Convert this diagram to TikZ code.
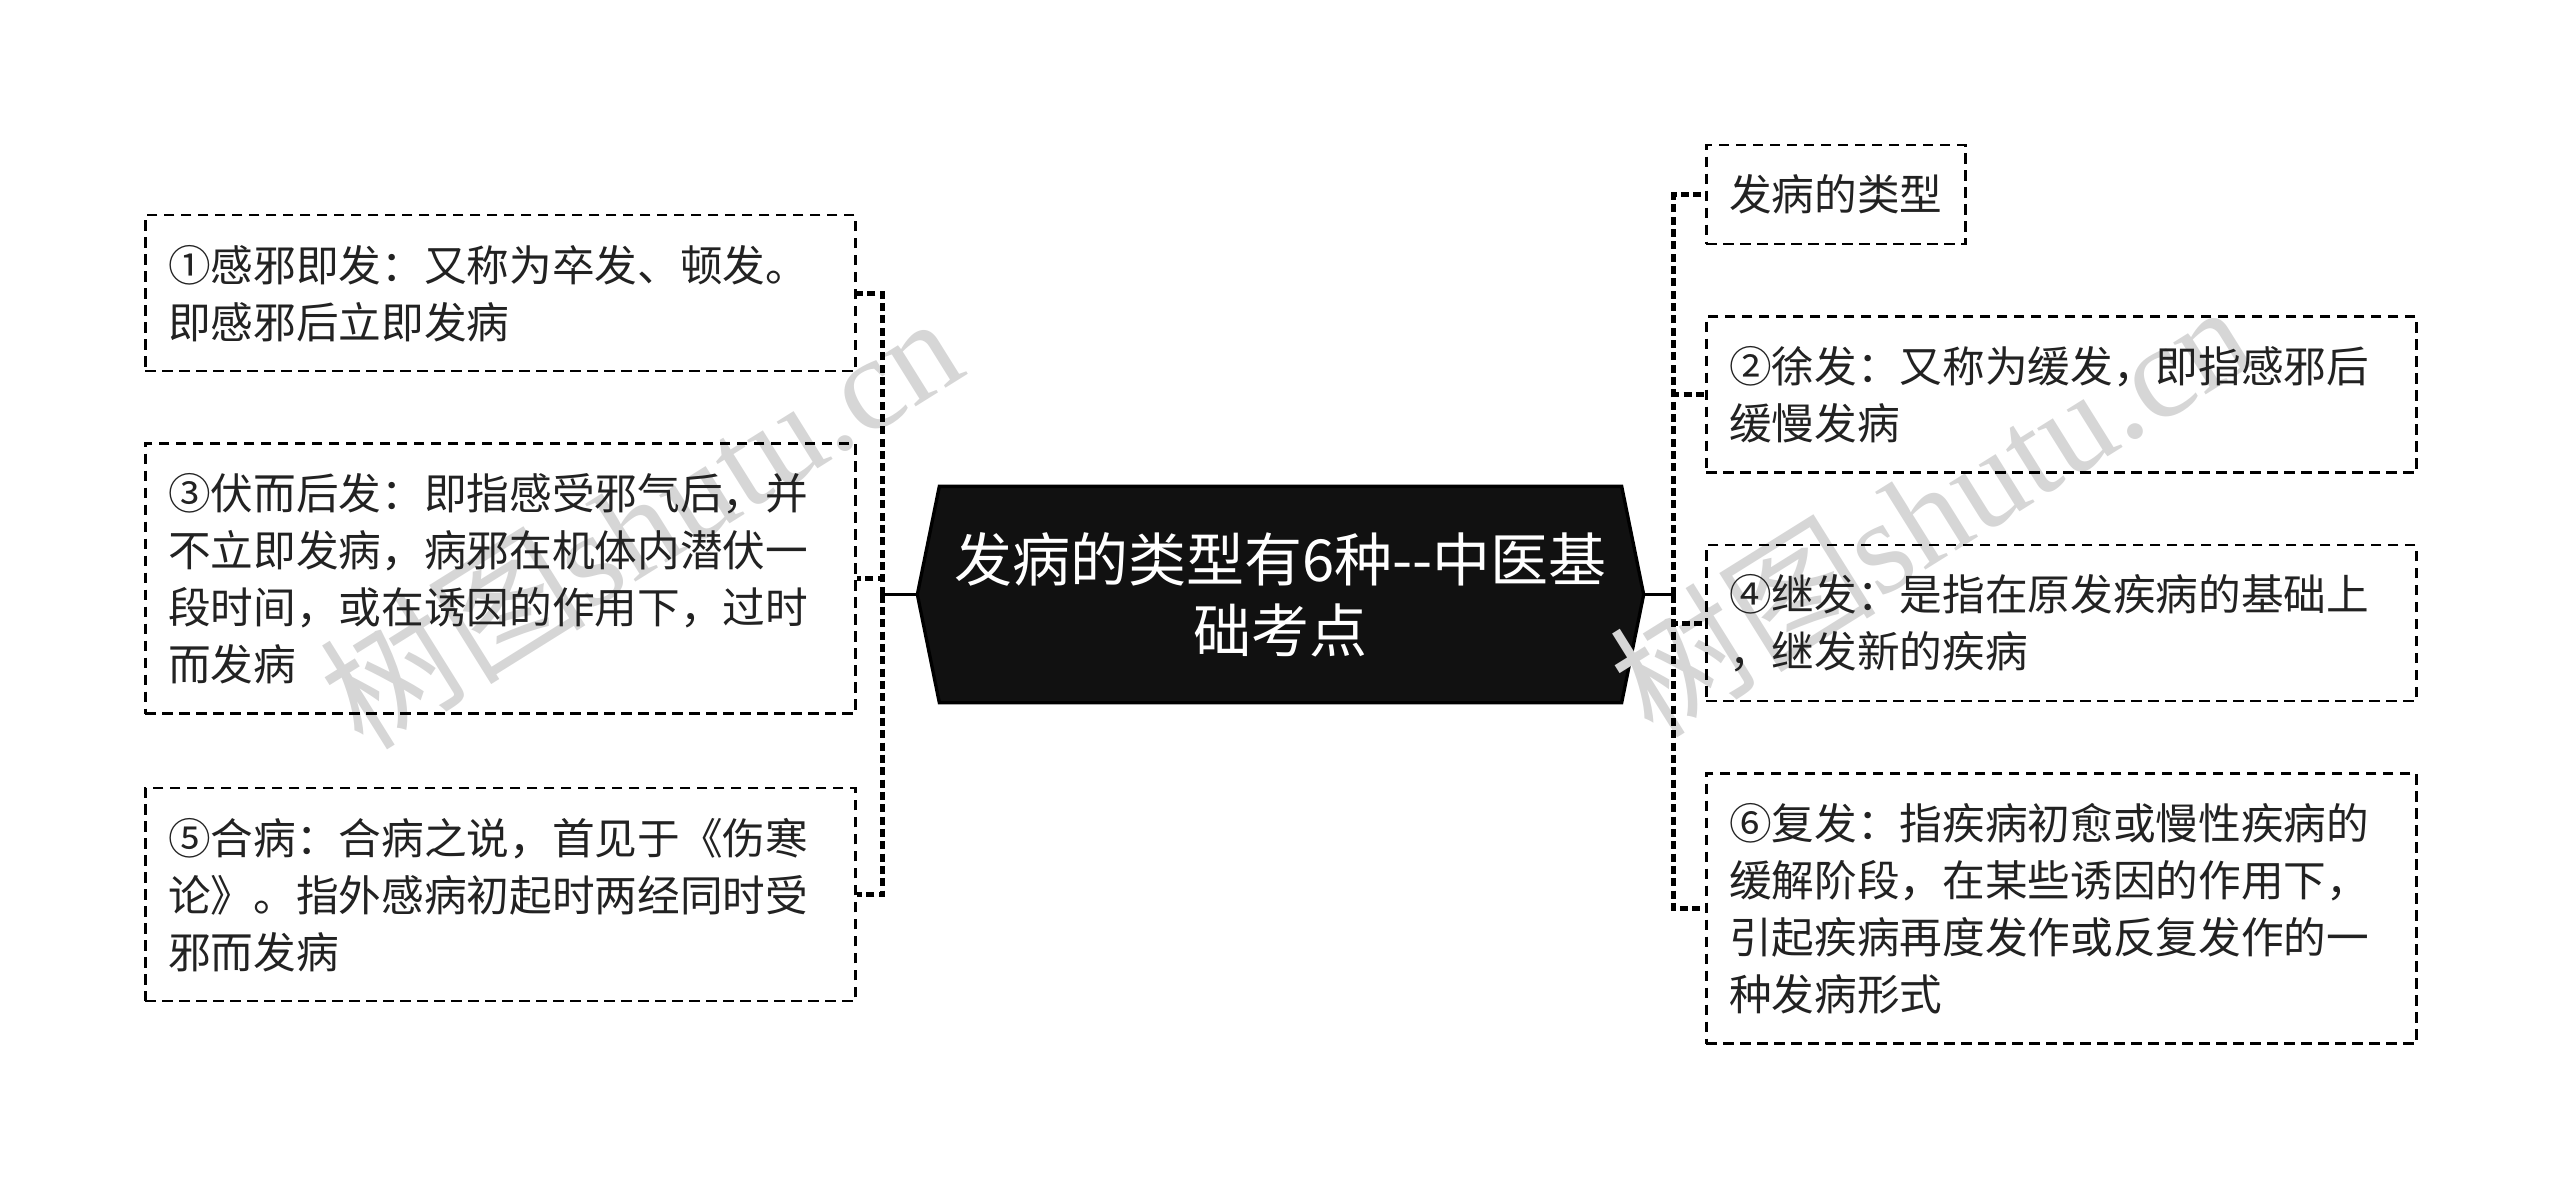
\documentclass[tikz,border=0pt]{standalone}
\usepackage{fontspec}
\newfontfamily\cjk{Noto Sans CJK SC}
\newfontfamily\wmfont{Liberation Serif}
\usepackage{tikz}
\usetikzlibrary{positioning}
\usetikzlibrary{backgrounds}
\definecolor{hexblack}{HTML}{111111}
\definecolor{leaftext}{HTML}{222222}
\definecolor{wmgray}{HTML}{D6D6D6}
\tikzstyle{leaf} = [draw,line width=0.75pt,dash pattern=on 3.1pt off 2pt,align=left,inner xsep=6.9pt,inner ysep=0pt,text=leaftext,font=\cjk\fontsize{12.8}{17.1}\selectfont]
\tikzstyle{wide} = [text width=199.2pt]
\tikzstyle{topic} = [inner sep=0pt,minimum width=204.3pt,minimum height=64.5pt,align=center,text=white,font=\cjk\fontsize{17.4}{21.3}\selectfont]
\tikzstyle{hexfill} = [fill=hexblack,draw=black,line width=1pt]
\tikzstyle{trunk} = [line width=1pt]
\tikzstyle{branch} = [line width=1.4pt,dash pattern=on 2.4pt off 1.3pt]
\tikzstyle{wmtext} = [text=wmgray,font=\cjk\fontsize{40}{40}\selectfont,inner sep=0pt]
\tikzset{rows/.style={minimum height=#1*17.1pt+12.6pt}}

\begin{document}
\begin{tikzpicture}[x=0.3pt,y=-0.3pt]
	\useasboundingbox (0,0) rectangle (2560,1189);
	
	%Watermarks
	\node[wmtext,rotate=32] (wm1) at (640,520) {树图{\wmfont shutu.cn}};
	\node[wmtext,rotate=32] (wm2) at (1930,508) {树图{\wmfont shutu.cn}};
	
	%Nodes
	\node[topic] (ctr) at (1280.5,594.5) {发病的类型有6种--中医基\\础考点};
	
	\node[leaf,wide,rows=2,anchor=north west] (l1) at (144,214) {①感邪即发：又称为卒发、顿发。\\即感邪后立即发病};
	\node[leaf,wide,rows=4,below=21pt of l1] (l3) {③伏而后发：即指感受邪气后，并\\不立即发病，病邪在机体内潜伏一\\段时间，或在诱因的作用下，过时\\而发病};
	\node[leaf,wide,rows=3,below=21.6pt of l3] (l5) {⑤合病：合病之说，首见于《伤寒\\论》。指外感病初起时两经同时受\\邪而发病};
	
	\node[leaf,rows=1,anchor=north west] (r0) at (1705,144) {发病的类型};
	\node[leaf,wide,rows=2,below=21pt of r0.south west,anchor=north west] (r2) {②徐发：又称为缓发，即指感邪后\\缓慢发病};
	\node[leaf,wide,rows=2,below=21pt of r2] (r4) {④继发：是指在原发疾病的基础上\\，继发新的疾病};
	\node[leaf,wide,rows=4,below=21pt of r4] (r6) {⑥复发：指疾病初愈或慢性疾病的\\缓解阶段，在某些诱因的作用下，\\引起疾病再度发作或反复发作的一\\种发病形式};
	
	\coordinate (ltip) at ([xshift=-6.6pt]ctr.west);
	\coordinate (rtip) at ([xshift=6.6pt]ctr.east);
	\coordinate (lhub) at ([xshift=-10.5pt]ltip);
	\coordinate (rhub) at ([xshift=9pt]rtip);
	
	\begin{scope}[on background layer]
		\filldraw[hexfill] (ltip) -- (ctr.north west) -- (ctr.north east) -- (rtip) -- (ctr.south east) -- (ctr.south west) -- cycle;
	\end{scope}
	
	%Lines
	\draw[trunk] (ltip) -- (lhub);
	\draw[trunk] (rtip) -- (rhub);
	\foreach \n in {l1,l3,l5}
		\draw[branch] (lhub) |- (\n.east);
	\foreach \n in {r0,r2,r4,r6}
		\draw[branch] (rhub) |- (\n.west);
\end{tikzpicture}
\end{document}
